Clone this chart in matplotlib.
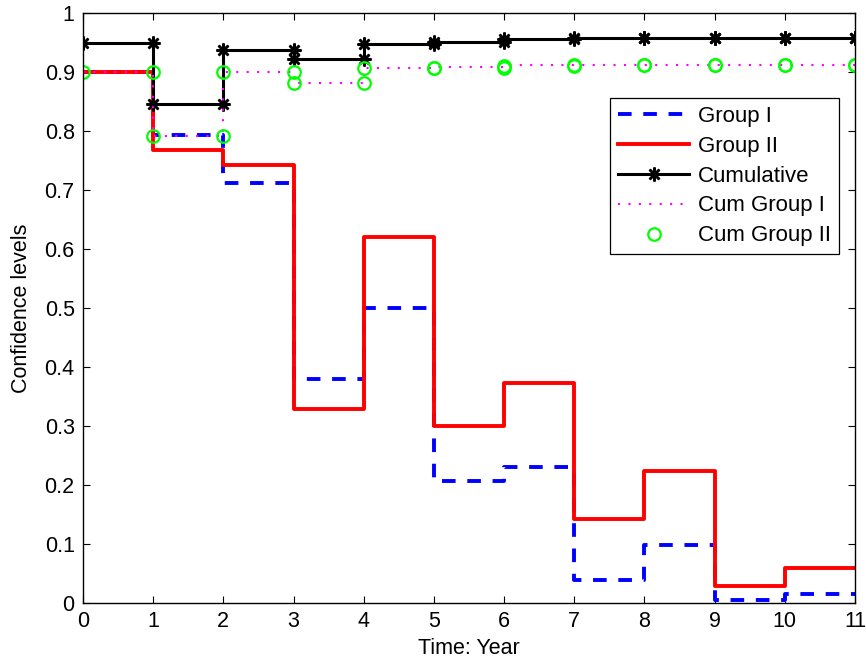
import numpy as np
import matplotlib
matplotlib.use("Agg")
import matplotlib.pyplot as plt

plt.rcParams['font.family'] = ['Liberation Sans', 'DejaVu Sans']

years = [0, 1, 2, 3, 4, 5, 6, 7, 8, 9, 10, 11]
group1 = [0.900, 0.793, 0.712, 0.380, 0.500, 0.207, 0.231, 0.039, 0.098, 0.005, 0.015, 0.015]
group2 = [0.900, 0.768, 0.742, 0.328, 0.621, 0.300, 0.373, 0.142, 0.224, 0.029, 0.060, 0.060]
cumulative = [0.950, 0.845, 0.938, 0.922, 0.947, 0.951, 0.956, 0.958, 0.958, 0.958, 0.958, 0.958]
cum_group1 = [0.900, 0.792, 0.900, 0.881, 0.906, 0.909, 0.912, 0.912, 0.912, 0.912, 0.912, 0.912]
cum_group2 = [0.900, 0.792, 0.900, 0.881, 0.906, 0.907, 0.911, 0.912, 0.912, 0.912, 0.912, 0.912]

xticks = list(range(0, 12))
yticks = [0, 0.1, 0.2, 0.3, 0.4, 0.5, 0.6, 0.7, 0.8, 0.9, 1]
ytick_labels = ['0', '0.1', '0.2', '0.3', '0.4', '0.5', '0.6', '0.7', '0.8', '0.9', '1']


def stairs(x, y):
    """Vertices of a MATLAB-style stairs plot."""
    x = np.asarray(x, float)
    y = np.asarray(y, float)
    xs = np.repeat(x, 2)[1:]
    ys = np.repeat(y, 2)[:-1]
    return xs, ys


fig = plt.figure(figsize=(8.66, 6.66), dpi=100)
ax = fig.add_axes([83 / 866, 1 - 603 / 666, (855 - 83) / 866, (603 - 13) / 666])

fs = 15.5

x, y = stairs(years, group1)
ax.plot(x, y, color='#0000ff', lw=2.8, linestyle=(0, (3.5, 3.0)), label='Group I')
x, y = stairs(years, group2)
ax.plot(x, y, color='#ff0000', lw=2.8, label='Group II')
x, y = stairs(years, cumulative)
ax.plot(x, y, color='black', lw=2.2, marker=(8, 2, 0), markersize=10,
        markeredgewidth=1.8, label='Cumulative')
x, y = stairs(years, cum_group1)
ax.plot(x, y, color='#ff00ff', lw=1.5, linestyle=(0, (1, 4)), label='Cum Group I')
x, y = stairs(years, cum_group2)
ax.plot(x, y, linestyle='none', marker='o', markersize=9, markerfacecolor='none',
        markeredgecolor='#00ff00', markeredgewidth=1.6, label='Cum Group II')

ax.set_xlim(0, 11)
ax.set_ylim(0, 1)
ax.set_xticks(xticks)
ax.set_yticks(yticks)
ax.set_yticklabels(ytick_labels)
ax.tick_params(direction='in', length=5, width=0.8, top=True, right=True,
               labelsize=fs, pad=6, colors='black')
for s in ax.spines.values():
    s.set_linewidth(1.0)
    s.set_color('black')

ax.set_xlabel('Time: Year', fontsize=fs, labelpad=4)
ax.set_ylabel('Confidence levels', fontsize=fs, labelpad=9)

leg = ax.legend(loc='upper right', bbox_to_anchor=(839 / 866, 1 - 98 / 666),
                bbox_transform=fig.transFigure, fontsize=fs + 0.5, numpoints=1,
                fancybox=False, framealpha=1, edgecolor='black', handlelength=3.2,
                handletextpad=0.4, borderpad=0.35, labelspacing=0.4, borderaxespad=0)
leg.get_frame().set_linewidth(0.9)

fig.savefig('out.png', dpi=100)
